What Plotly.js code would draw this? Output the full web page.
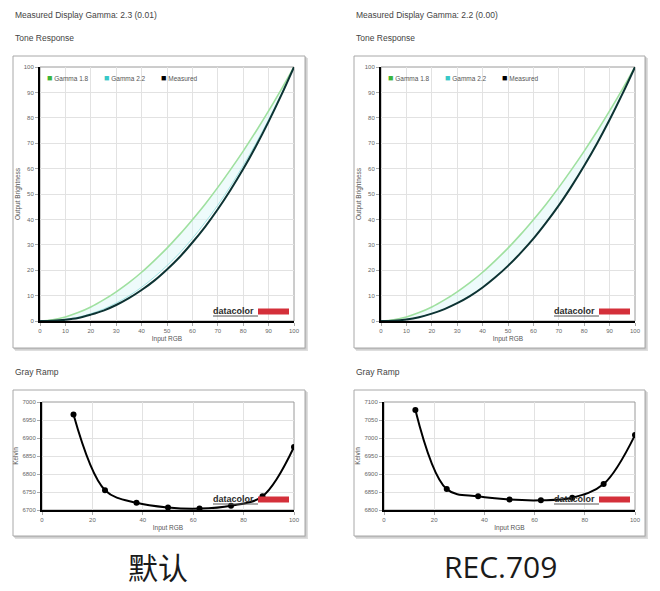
<!DOCTYPE html>
<html>
<head>
<meta charset="utf-8">
<script src="https://cdn.plot.ly/plotly-3.0.1.min.js"></script>
<style>
  body { margin: 0; background: #fff; }
  #chart { width: 660px; height: 591px; }
</style>
</head>
<body>
<div id="chart"></div>
<script>
// tone response data (percent)
var inputRGB = [0, 5, 10, 15, 20, 25, 30, 35, 40, 45, 50, 55, 60, 65, 70, 75, 80, 85, 90, 95, 100];
var gamma18 = [0, 0.5, 1.6, 3.3, 5.5, 8.3, 11.5, 15.1, 19.2, 23.8, 28.7, 34.1, 39.9, 46.0, 52.6, 59.6, 66.9, 74.6, 82.7, 91.2, 100];
var gamma22 = [0, 0.1, 0.6, 1.5, 2.9, 4.7, 7.1, 9.9, 13.3, 17.3, 21.8, 26.8, 32.5, 38.8, 45.6, 53.1, 61.2, 69.9, 79.3, 89.3, 100];
var measuredDefault = [0, 0.1, 0.5, 1.2, 2.5, 4.1, 6.3, 9.0, 12.2, 15.9, 20.3, 25.2, 30.9, 37.1, 44.0, 51.6, 59.8, 68.8, 78.5, 88.9, 100];
var measuredRec709 = [0, 0.1, 0.6, 1.5, 2.9, 4.7, 7.0, 9.8, 13.2, 17.2, 21.7, 26.8, 32.4, 38.7, 45.5, 53.0, 61.1, 69.8, 79.2, 89.3, 100];

// gray ramp data (kelvin)
var rampRGB = [12.5, 25, 37.5, 50, 62.5, 75, 87.5, 100];
var kelvinDefault = [6965, 6755, 6720, 6707, 6704, 6712, 6738, 6875];
var kelvinRec709 = [7078, 6858, 6838, 6829, 6827, 6834, 6872, 7008];

var W = 660, H = 591;
function px(x) { return x / W; }
function py(y) { return 1 - y / H; }

var green = '#9fe09f', cyan = '#a0e4e4', dark = '#0d3333';

function toneTraces(xa, ya, measured) {
  return [
    {x: inputRGB, y: gamma18, xaxis: xa, yaxis: ya, type: 'scatter', mode: 'lines',
     line: {color: green, width: 1.6, shape: 'spline'}, showlegend: false, hoverinfo: 'skip'},
    {x: inputRGB, y: gamma22, xaxis: xa, yaxis: ya, type: 'scatter', mode: 'lines',
     line: {color: cyan, width: 1, shape: 'spline'}, fill: 'tonexty', fillcolor: 'rgba(218,246,246,0.45)',
     showlegend: false, hoverinfo: 'skip'},
    {x: inputRGB, y: measured, xaxis: xa, yaxis: ya, type: 'scatter', mode: 'lines',
     line: {color: dark, width: 2, shape: 'spline'}, showlegend: false}
  ];
}

function rampTrace(xa, ya, kelvin) {
  return {x: rampRGB, y: kelvin, xaxis: xa, yaxis: ya, type: 'scatter', mode: 'lines+markers',
    line: {color: '#000', width: 2, shape: 'spline', smoothing: 1},
    marker: {color: '#000', size: 6}, showlegend: false};
}

var data = [].concat(
  toneTraces('x', 'y', measuredDefault),
  toneTraces('x2', 'y2', measuredRec709),
  [rampTrace('x3', 'y3', kelvinDefault), rampTrace('x4', 'y4', kelvinRec709)]
);

var tickFont = {family: 'Liberation Sans, Arial', size: 6, color: '#666'};
var titleFont = {family: 'Liberation Sans, Arial', size: 6.5, color: '#555'};

function xAxis(dom, dtick, anchor) {
  return {domain: dom, anchor: anchor, range: [0, 100], dtick: dtick, tick0: 0,
    showgrid: true, gridcolor: '#e2e2e2', gridwidth: 1, zeroline: false,
    showline: true, linecolor: '#000', linewidth: 2,
    ticks: 'outside', ticklen: 3, tickcolor: '#aaa', tickfont: tickFont,
    title: {text: 'Input RGB', font: titleFont, standoff: 3}, fixedrange: true};
}
function yAxis(dom, range, dtick, anchor, title) {
  return {domain: dom, anchor: anchor, range: range, dtick: dtick, tick0: range[0],
    showgrid: true, gridcolor: '#e2e2e2', gridwidth: 1, zeroline: false,
    showline: true, linecolor: '#000', linewidth: 2,
    ticks: 'outside', ticklen: 3, tickcolor: '#aaa', tickfont: tickFont,
    title: {text: title, font: titleFont, standoff: 3}, fixedrange: true};
}

var toneY = [py(321), py(67)];
var rampY = [py(510), py(402)];

var shapes = [];
function frame(x0, y0, x1, y1) {
  shapes.push({type: 'rect', xref: 'paper', yref: 'paper', layer: 'below',
    x0: px(x0 + 2), x1: px(x1 + 3), y0: py(y1 + 3), y1: py(y0 + 2),
    fillcolor: '#dedede', line: {width: 0}});
  shapes.push({type: 'rect', xref: 'paper', yref: 'paper', layer: 'below',
    x0: px(x0 + 1), x1: px(x1 + 1.5), y0: py(y1 + 1.5), y1: py(y0 + 1),
    fillcolor: '#c4c4c4', line: {width: 0}});
  shapes.push({type: 'rect', xref: 'paper', yref: 'paper', layer: 'below',
    x0: px(x0), x1: px(x1), y0: py(y1), y1: py(y0),
    fillcolor: '#fff', line: {color: '#a8a8a8', width: 1}});
}
frame(13, 56, 305, 348);
frame(354, 56, 645, 348);
frame(13, 390, 305, 536);
frame(354, 390, 645, 536);

// gray border of each plot area
['', '2', '3', '4'].forEach(function (n) {
  shapes.push({type: 'rect', xref: 'x' + n + ' domain', yref: 'y' + n + ' domain', layer: 'below',
    x0: 0, x1: 1, y0: 0, y1: 1, line: {color: '#9a9a9a', width: 1}});
});

var annotations = [];
function text(t, x, y, size, opts) {
  var a = {text: t, xref: 'paper', yref: 'paper', x: px(x), y: py(y),
    xanchor: 'left', yanchor: 'middle', showarrow: false,
    font: {family: 'Liberation Sans, Arial', size: size, color: '#444'}};
  for (var k in opts) a[k] = opts[k];
  annotations.push(a);
}

function logo(x, y) {
  text('<b>datacolor</b>', x - 2, y, 9, {font: {family: 'Liberation Sans, Arial', size: 9, color: '#2b2b2b'}});
  shapes.push({type: 'rect', xref: 'paper', yref: 'paper', layer: 'above',
    x0: px(x + 45), x1: px(x + 76), y0: py(y + 3.5), y1: py(y - 2.5),
    fillcolor: '#d4303a', line: {width: 0}});
  shapes.push({type: 'line', xref: 'paper', yref: 'paper', layer: 'above',
    x0: px(x), x1: px(x + 45), y0: py(y + 5), y1: py(y + 5), line: {color: '#555', width: 1}});
}

function legend(x0, y) {
  var items = [['Gamma 1.8', '#3bb43b'], ['Gamma 2.2', '#38c8c8'], ['Measured', '#000']];
  items.forEach(function (it, i) {
    text('<span style="color:' + it[1] + ';font-size:9px">■</span> ' + it[0], x0 + i * 57, y, 6.5, {font: {family: 'Liberation Sans, Arial', size: 6.5, color: '#555'}});
  });
}

[[13, 0], [354, 1]].forEach(function (p) {
  var x = p[0];
  text(p[1] ? 'Measured Display Gamma: 2.2 (0.00)' : 'Measured Display Gamma: 2.3 (0.01)', x, 15, 8.5);
  text('Tone Response', x, 38, 8.5);
  text('Gray Ramp', x, 372, 8.5);
  legend(x + 32, 78);
  logo(x + 200, 311);
  logo(x + 200, 499);
});

text('默认', 158, 566, 30, {xanchor: 'center', font: {family: 'Noto Sans CJK SC', size: 30, color: '#1a1a1a'}});
text('REC.709', 500, 566, 30, {xanchor: 'center', font: {family: 'Open Sans', size: 30, color: '#1a1a1a'}});

var layout = {
  width: W, height: H, autosize: false,
  margin: {l: 0, r: 0, t: 0, b: 0, pad: 0},
  paper_bgcolor: '#fff', plot_bgcolor: 'rgba(0,0,0,0)',
  showlegend: false,
  xaxis: xAxis([px(40), px(294)], 10, 'y'),
  yaxis: yAxis(toneY, [0, 100], 10, 'x', 'Output Brightness'),
  xaxis2: xAxis([px(381), px(635)], 10, 'y2'),
  yaxis2: yAxis(toneY, [0, 100], 10, 'x2', 'Output Brightness'),
  xaxis3: xAxis([px(42), px(294)], 20, 'y3'),
  yaxis3: yAxis(rampY, [6700, 7000], 50, 'x3', 'Kelvin'),
  xaxis4: xAxis([px(384), px(635)], 20, 'y4'),
  yaxis4: yAxis(rampY, [6800, 7100], 50, 'x4', 'Kelvin'),
  shapes: shapes,
  annotations: annotations
};

Plotly.newPlot('chart', data, layout, {displayModeBar: false, staticPlot: true});
</script>
</body>
</html>
